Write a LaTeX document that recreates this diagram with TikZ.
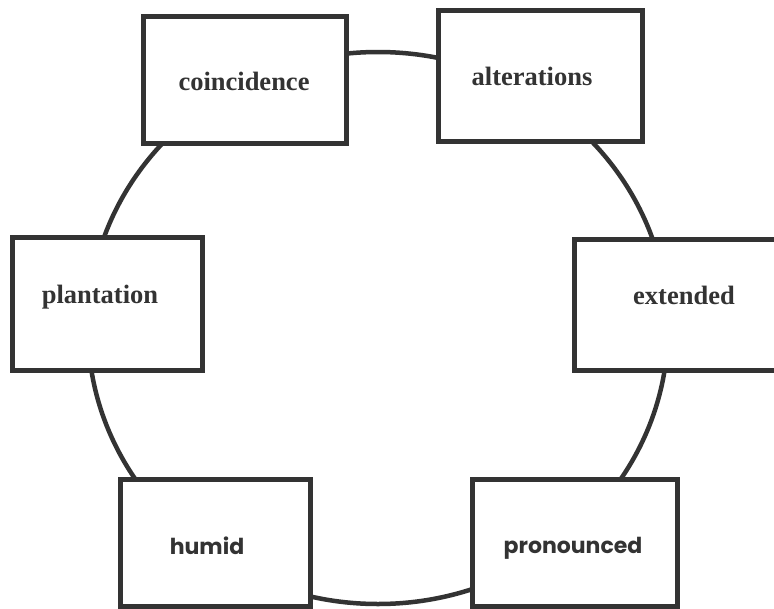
\documentclass[tikz,border=0pt]{standalone}
\usepackage{fontspec}
\setmainfont{Liberation Serif}
\newfontfamily\geofont{Poppins}
\definecolor{ink}{HTML}{333333}
\begin{document}
\begin{tikzpicture}[x=1pt,y=-1pt,
  boxst/.style={draw=ink, line width=5pt, fill=white, rectangle, inner sep=0pt, outer sep=0pt},
  ringst/.style={draw=ink, line width=4.5pt},
  serlab/.style={font=\fontsize{26.5}{30}\selectfont\bfseries, text=ink, inner sep=0pt, anchor=base},
  sanlab/.style={font=\geofont\fontsize{22}{26}\selectfont\bfseries, text=ink, inner sep=0pt, anchor=base}]
\useasboundingbox (0,0) rectangle (774,608);
\fill[white] (0,0) rectangle (774,608);
\clip (0,0) rectangle (774,608);
\coordinate (ctr) at (378,328);
\draw[ringst] (ctr) ellipse [x radius=290, y radius=276];
\node[boxst, minimum width=203pt, minimum height=127.5pt] (coin) at (245,79.75) {};
\node[boxst, minimum width=204pt, minimum height=131pt] (alter) at (540.5,76) {};
\node[boxst, minimum width=190pt, minimum height=133pt] (plant) at (107.5,304) {};
\node[boxst, minimum width=215pt, minimum height=131pt] (ext) at (682,305) {};
\node[boxst, minimum width=190pt, minimum height=126.5pt] (humid) at (215.5,542.75) {};
\node[boxst, minimum width=205pt, minimum height=126.5pt] (pron) at (575,542.75) {};
\node[serlab] (tcoin) at (244,90) {coincidence};
\node[serlab] (talter) at (532,85) {alterations};
\node[serlab] (tplant) at (100,303) {plantation};
\node[serlab] (text) at (684,304) {extended};
\node[sanlab] (thumid) at (207,554) {humid};
\node[sanlab] (tpron) at (573,553) {pronounced};
\end{tikzpicture}
\end{document}
